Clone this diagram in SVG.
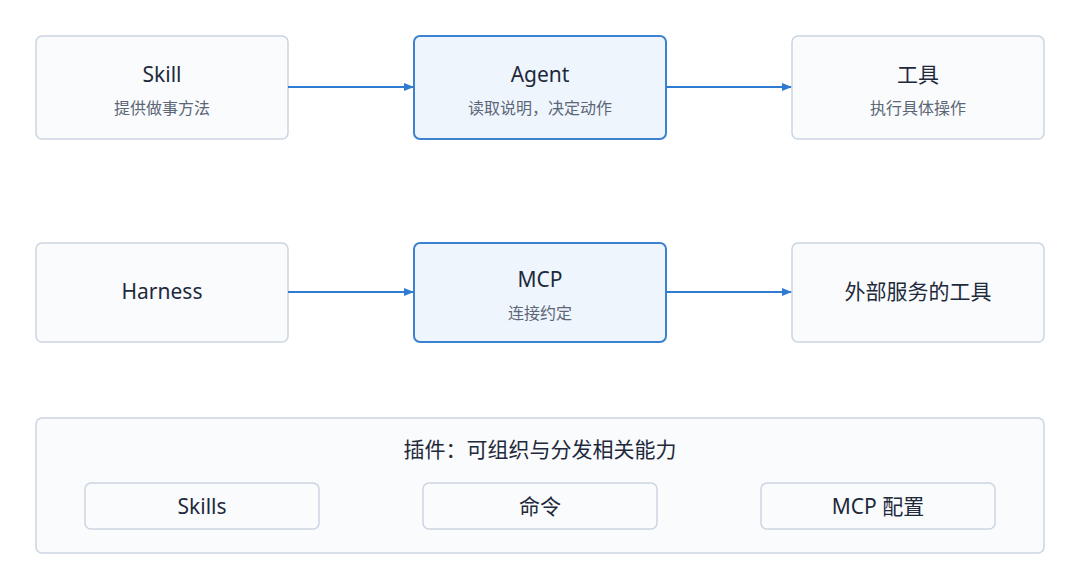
<svg xmlns="http://www.w3.org/2000/svg" width="1080" height="585" viewBox="0 0 1080 585">
<style>
.n{fill:#f9fbfd;stroke:#cbd5e1;stroke-width:1.5}
.h{fill:#eff5fd;stroke:#3b82d0;stroke-width:2}
.t{font-family:"Noto Sans","Noto Sans CJK SC",sans-serif;fill:#1e293b;text-anchor:middle;font-size:21px}
.s{font-family:"Noto Sans","Noto Sans CJK SC",sans-serif;fill:#5b6676;text-anchor:middle;font-size:16px}
.c{stroke:#2f7bd2;stroke-width:2;fill:none;marker-end:url(#a)}
</style>
<defs><marker id="a" markerWidth="10" markerHeight="10" refX="9" refY="5" orient="auto" markerUnits="userSpaceOnUse"><path d="M0,1 L10,5 L0,9 z" fill="#2f7bd2"/></marker></defs>
<rect width="1080" height="585" fill="#fff"/>
<g id="skill"><rect class="n" x="36" y="36" width="252" height="103" rx="6"/><text class="t" x="162" y="82">Skill</text><text class="s" x="162" y="114">提供做事方法</text></g>
<g id="agent"><rect class="h" x="414" y="36" width="252" height="103" rx="6"/><text class="t" x="540" y="82">Agent</text><text class="s" x="540" y="114">读取说明，决定动作</text></g>
<g id="tools"><rect class="n" x="792" y="36" width="252" height="103" rx="6"/><text class="t" x="918" y="82">工具</text><text class="s" x="918" y="114">执行具体操作</text></g>
<g id="harness"><rect class="n" x="36" y="243" width="252" height="99" rx="6"/><text class="t" x="162" y="299">Harness</text></g>
<g id="mcp"><rect class="h" x="414" y="243" width="252" height="99" rx="6"/><text class="t" x="540" y="287">MCP</text><text class="s" x="540" y="319">连接约定</text></g>
<g id="ext"><rect class="n" x="792" y="243" width="252" height="99" rx="6"/><text class="t" x="918" y="299">外部服务的工具</text></g>
<g id="plugin"><rect class="n" x="36" y="418" width="1008" height="135" rx="6"/><text class="t" x="540" y="457">插件：可组织与分发相关能力</text>
<g id="skills"><rect class="n" x="85" y="483" width="234" height="46" rx="6"/><text class="t" x="202" y="514">Skills</text></g>
<g id="cmd"><rect class="n" x="423" y="483" width="234" height="46" rx="6"/><text class="t" x="540" y="514">命令</text></g>
<g id="mcpcfg"><rect class="n" x="761" y="483" width="234" height="46" rx="6"/><text class="t" x="878" y="514">MCP 配置</text></g></g>
<g id="connectors">
<path class="c" d="M288,87 H413"/><path class="c" d="M666,87 H791"/>
<path class="c" d="M288,292 H413"/><path class="c" d="M666,292 H791"/>
</g>
</svg>
